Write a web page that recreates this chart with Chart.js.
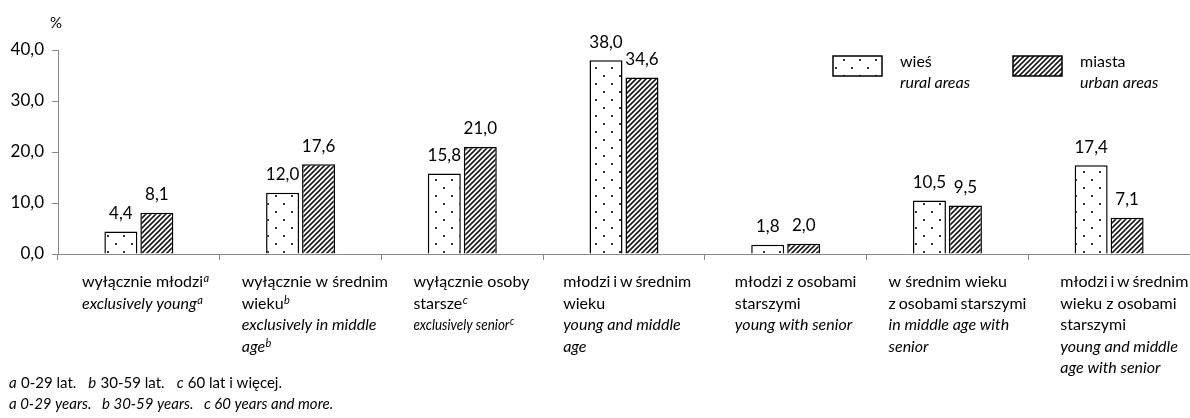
<!DOCTYPE html>
<html><head><meta charset="utf-8">
<script src="https://cdn.jsdelivr.net/npm/chart.js@4"></script>
<style>html,body{margin:0;padding:0;background:#fff}canvas{display:block}</style>
</head><body>
<canvas id="c" width="1190" height="418"></canvas>
<script>
// ---- data ----
const categories = [
  ["wyłącznie młodzi|^a", "_exclusively young|^a"],
  ["wyłącznie w średnim", "wieku|^b", "_exclusively in middle", "_age|^b"],
  ["wyłącznie osoby", "starsze|^c", "~exclusively senior|^c"],
  ["!młodzi i w średnim", "wieku", "_young and middle", "_age"],
  ["młodzi z osobami", "starszymi", "_young with senior"],
  ["w średnim wieku", "!z osobami starszymi", "_in middle age with", "_senior"],
  ["!młodzi i w średnim", "wieku z osobami", "starszymi", "_young and middle", "_age with senior"]
];
const rural = [4.4, 12.0, 15.8, 38.0, 1.8, 10.5, 17.4];
const urban = [8.1, 17.6, 21.0, 34.6, 2.0, 9.5, 7.1];
const seriesNames = [["wieś", "_rural areas"], ["miasta", "_urban areas"]];
const yTicks = [0, 10, 20, 30, 40];
const yUnit = "%";
const footnotes = [
  "_a| 0-29 lat.   |_b| 30-59 lat.   |_c| 60 lat i więcej.",
  "_a 0-29 years.   b 30-59 years.   c 60 years and more."
];

// ---- layout / style ----
const FONT = 'Lato, sans-serif';
const LABEL_OFFSETS = [24, 22, 32, 20, 30, 22, 32];
const canvas = document.getElementById('c');
const ctx = canvas.getContext('2d');

function makeDots() {
  const c = document.createElement('canvas'); c.width = 16; c.height = 16;
  const g = c.getContext('2d');
  g.fillStyle = '#fff'; g.fillRect(0, 0, 16, 16);
  g.fillStyle = '#333';
  g.fillRect(3, 3, 2, 2); g.fillRect(11, 11, 2, 2);
  return ctx.createPattern(c, 'repeat');
}
function makeHatch() {
  const s = 5;
  const c = document.createElement('canvas'); c.width = s; c.height = s;
  const g = c.getContext('2d');
  g.fillStyle = '#fff'; g.fillRect(0, 0, s, s);
  g.strokeStyle = '#1a1a1a'; g.lineWidth = 1.6;
  g.beginPath();
  g.moveTo(-1, s + 1); g.lineTo(s + 1, -1);
  g.moveTo(-1, 1); g.lineTo(1, -1);
  g.moveTo(s - 1, s + 1); g.lineTo(s + 1, s - 1);
  g.stroke();
  return ctx.createPattern(c, 'repeat');
}
const fills = [makeDots(), makeHatch()];

function drawRich(c, str, x, y, size) {
  let cx = x;
  let condensed = false, tight = false;
  if (str.startsWith('~')) { condensed = true; str = '_' + str.slice(1); }
  if (str.startsWith('!')) { tight = true; str = str.slice(1); }
  for (const seg of str.split('|')) {
    let italic = false, sup = false, t = seg;
    if (t.startsWith('^')) { sup = true; italic = true; t = t.slice(1); }
    else if (t.startsWith('_')) { italic = true; t = t.slice(1); }
    const fs = sup ? Math.round(size * 0.7) : size;
    c.font = (italic ? 'italic ' : '') + fs + 'px ' + FONT;
    c.wordSpacing = tight ? '-1.2px' : '0px';
    let w = c.measureText(t).width;
    const sx = condensed ? 0.84 : 1;
    c.save();
    c.translate(cx, sup ? y - size * 0.22 : y);
    c.scale(sx, 1);
    c.fillText(t, 0, 0);
    c.restore();
    cx += w * sx + (sup ? 0 : 0.5);
  }
  c.wordSpacing = '0px';
}

const decorPlugin = {
  id: 'decor',
  afterDraw(chart) {
    const c = chart.ctx;
    const xs = chart.scales.x;
    const area = chart.chartArea;
    c.save();
    c.fillStyle = '#000';
    c.textBaseline = 'middle';
    c.textAlign = 'left';
    const half = (xs.getPixelForValue(1) - xs.getPixelForValue(0)) / 2;
    categories.forEach((lines, i) => {
      const left = xs.getPixelForValue(i) - half + LABEL_OFFSETS[i];
      lines.forEach((ln, j) => {
        drawRich(c, ln, left, area.bottom + 28 + j * 21.5, 16);
      });
    });
    footnotes.forEach((ln, j) => drawRich(c, ln, 9, 383 + j * 21, 15));
    c.font = '15px ' + FONT;
    c.fillText(yUnit, 50, 23);
    const boxes = [[833, 56], [1013, 56]];
    seriesNames.forEach((nm, k) => {
      const [bx, by] = boxes[k];
      c.fillStyle = fills[k];
      c.fillRect(bx, by, 49, 20);
      c.strokeStyle = '#000'; c.lineWidth = 1.5;
      c.strokeRect(bx, by, 49, 20);
      c.fillStyle = '#000';
      drawRich(c, nm[0], bx + 67, 62, 16);
      drawRich(c, nm[1], bx + 67, 83, 16);
    });
    c.restore();
  },
  afterDatasetsDraw(chart) {
    const c = chart.ctx;
    c.save();
    c.fillStyle = '#000';
    c.font = '17px ' + FONT;
    c.textAlign = 'center';
    c.textBaseline = 'middle';
    chart.data.datasets.forEach((ds, di) => {
      chart.getDatasetMeta(di).data.forEach((bar, i) => {
        c.fillText(ds.data[i].toFixed(1).replace('.', ','), bar.x, bar.y - 18);
      });
    });
    c.restore();
  }
};

new Chart(ctx, {
  type: 'bar',
  data: {
    labels: categories.map(l => l.join(' ')),
    datasets: [
      { label: seriesNames[0][0], data: rural, backgroundColor: fills[0], borderColor: '#000', borderWidth: 1.5 },
      { label: seriesNames[1][0], data: urban, backgroundColor: fills[1], borderColor: '#000', borderWidth: 1.5 }
    ]
  },
  options: {
    responsive: false,
    animation: false,
    events: [],
    layout: { padding: { top: 50, left: 0, right: 0, bottom: 0 } },
    datasets: { bar: { categoryPercentage: 0.445, barPercentage: 0.917 } },
    plugins: { legend: { display: false }, tooltip: { enabled: false } },
    scales: {
      x: {
        ticks: { display: false },
        grid: { offset: true, drawOnChartArea: false, drawTicks: true, tickLength: 6, color: '#888' },
        border: { color: '#888', width: 1 },
        afterFit(s) { s.height = 164; }
      },
      y: {
        min: 0, max: 40,
        afterBuildTicks(s) { s.ticks = yTicks.map(v => ({ value: v })); },
        ticks: {
          color: '#000', padding: 8,
          font: { family: FONT, size: 17 },
          callback: v => v.toFixed(1).replace('.', ',')
        },
        grid: { drawOnChartArea: false, drawTicks: true, tickLength: 6, color: '#888' },
        border: { color: '#888', width: 1 },
        afterFit(s) { s.width = 58; }
      }
    }
  },
  plugins: [decorPlugin]
});
</script>
</body></html>
